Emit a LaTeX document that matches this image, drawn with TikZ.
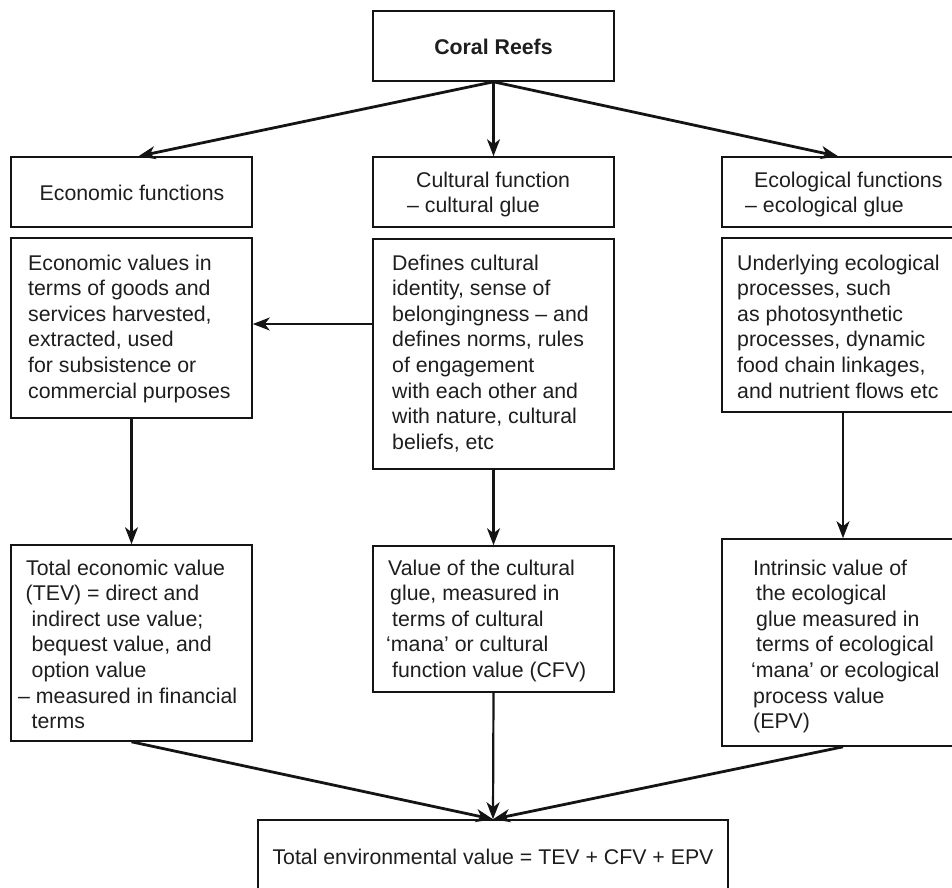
\documentclass[tikz,border=0pt]{standalone}
\usepackage{fontspec}
\setmainfont{Liberation Sans}
\usetikzlibrary{arrows.meta,fit}
\definecolor{lc}{HTML}{141414}
\definecolor{tc}{HTML}{1E1E1E}
\begin{document}
\begin{tikzpicture}[x=1pt,y=-1pt,
  box/.style={draw=lc, line width=1.6pt, inner sep=0pt},
  txt/.style={inner sep=0pt, text=tc, font=\fontsize{21.3pt}{25.6pt}\selectfont, align=left, anchor=base west},
  ctxt/.style={inner sep=0pt, text=tc, font=\fontsize{21.3pt}{25.6pt}\selectfont, anchor=base},
  arr/.style={draw=lc, line width=2.8pt, -{Stealth[length=17pt,width=13pt,inset=5pt]}},
  arrv/.style={draw=lc, line width=2.2pt, -{Stealth[length=17pt,width=13pt,inset=5pt]}},
]
\useasboundingbox (0,0) rectangle (952,887);
\fill[white] (0,0) rectangle (952,887);

% boxes
\node[box, fit={(373,11) (614,81)}] (coral) {};
\node[box, fit={(11,157) (252,227)}] (econf) {};
\node[box, fit={(373,157) (614,227)}] (cultf) {};
\node[box, fit={(722,157) (964,227)}] (ecof) {};
\node[box, fit={(11,238) (252,418)}] (econv) {};
\node[box, fit={(373,239) (614,469)}] (cultd) {};
\node[box, fit={(722,238) (964,412)}] (ecod) {};
\node[box, fit={(11,545) (252,741)}] (tev) {};
\node[box, fit={(373,546) (614,692)}] (cultv) {};
\node[box, fit={(722,539) (964,746)}] (intr) {};
\node[box, fit={(258,820) (728,910)}] (total) {};

% texts (base anchor = baseline of the last line)
\node[ctxt] (tcoral) at (493.5,54) {\textbf{Coral Reefs}};
\node[ctxt] (teconf) at (132,200) {Economic functions};
\node[txt] (tcultf) at (407,212.6) {\hspace*{9pt}Cultural function\\– cultural glue};
\node[txt] (tecof) at (745,212.6) {\hspace*{9pt}Ecological functions\\– ecological glue};
\node[txt] (teconv) at (28,398) {Economic values in\\terms of goods and\\services harvested,\\extracted, used\\for subsistence or\\commercial purposes};
\node[txt] (tcultd) at (392,449.2) {Defines cultural\\identity, sense of\\belongingness – and\\defines norms, rules\\of engagement\\with each other and\\with nature, cultural\\beliefs, etc};
\node[txt] (tecod) at (737,398) {Underlying ecological\\processes, such\\as photosynthetic\\processes, dynamic\\food chain linkages,\\and nutrient flows etc};
\node[txt] (ttev) at (18,728.6) {\hspace*{8pt}Total economic value\\\hspace*{7.5pt}(TEV) = direct and\\\hspace*{13.5pt}indirect use value;\\\hspace*{13.5pt}bequest value, and\\\hspace*{13.5pt}option value\\– measured in financial\\\hspace*{13.5pt}terms};
\node[txt] (tcultv) at (386,677.4) {\hspace*{2pt}Value of the cultural\\\hspace*{4pt}glue, measured in\\\hspace*{6pt}terms of cultural\\‘mana’ or cultural\\\hspace*{6pt}function value (CFV)};
\node[txt] (tintr) at (751,728.6) {\hspace*{2pt}Intrinsic value of\\\hspace*{5pt}the ecological\\\hspace*{5pt}glue measured in\\\hspace*{5pt}terms of ecological\\‘mana’ or ecological\\\hspace*{2pt}process value\\\hspace*{2pt}(EPV)};
\node[ctxt] (ttot) at (493,864) {Total environmental value = TEV + CFV + EPV};

% connectors
\draw[arr] (coral.south) -- ([xshift=7pt]econf.north);
\draw[arrv] (coral.south) -- (cultf.north);
\draw[arr] (coral.south) -- ([xshift=-5pt]ecof.north);
\coordinate (h) at ([yshift=4pt]econv.east);
\draw[arrv] (cultd.west |- h) -- (h);
\draw[arrv] (econv.south) -- (tev.north);
\draw[arrv] (cultd.south) -- (cultv.north);
\draw[arrv] (ecod.south) -- (intr.north);
\draw[arr] (tev.south) -- (total.north);
\draw[arrv] (cultv.south) -- (total.north);
\draw[arr] (intr.south) -- (total.north);
\end{tikzpicture}
\end{document}
